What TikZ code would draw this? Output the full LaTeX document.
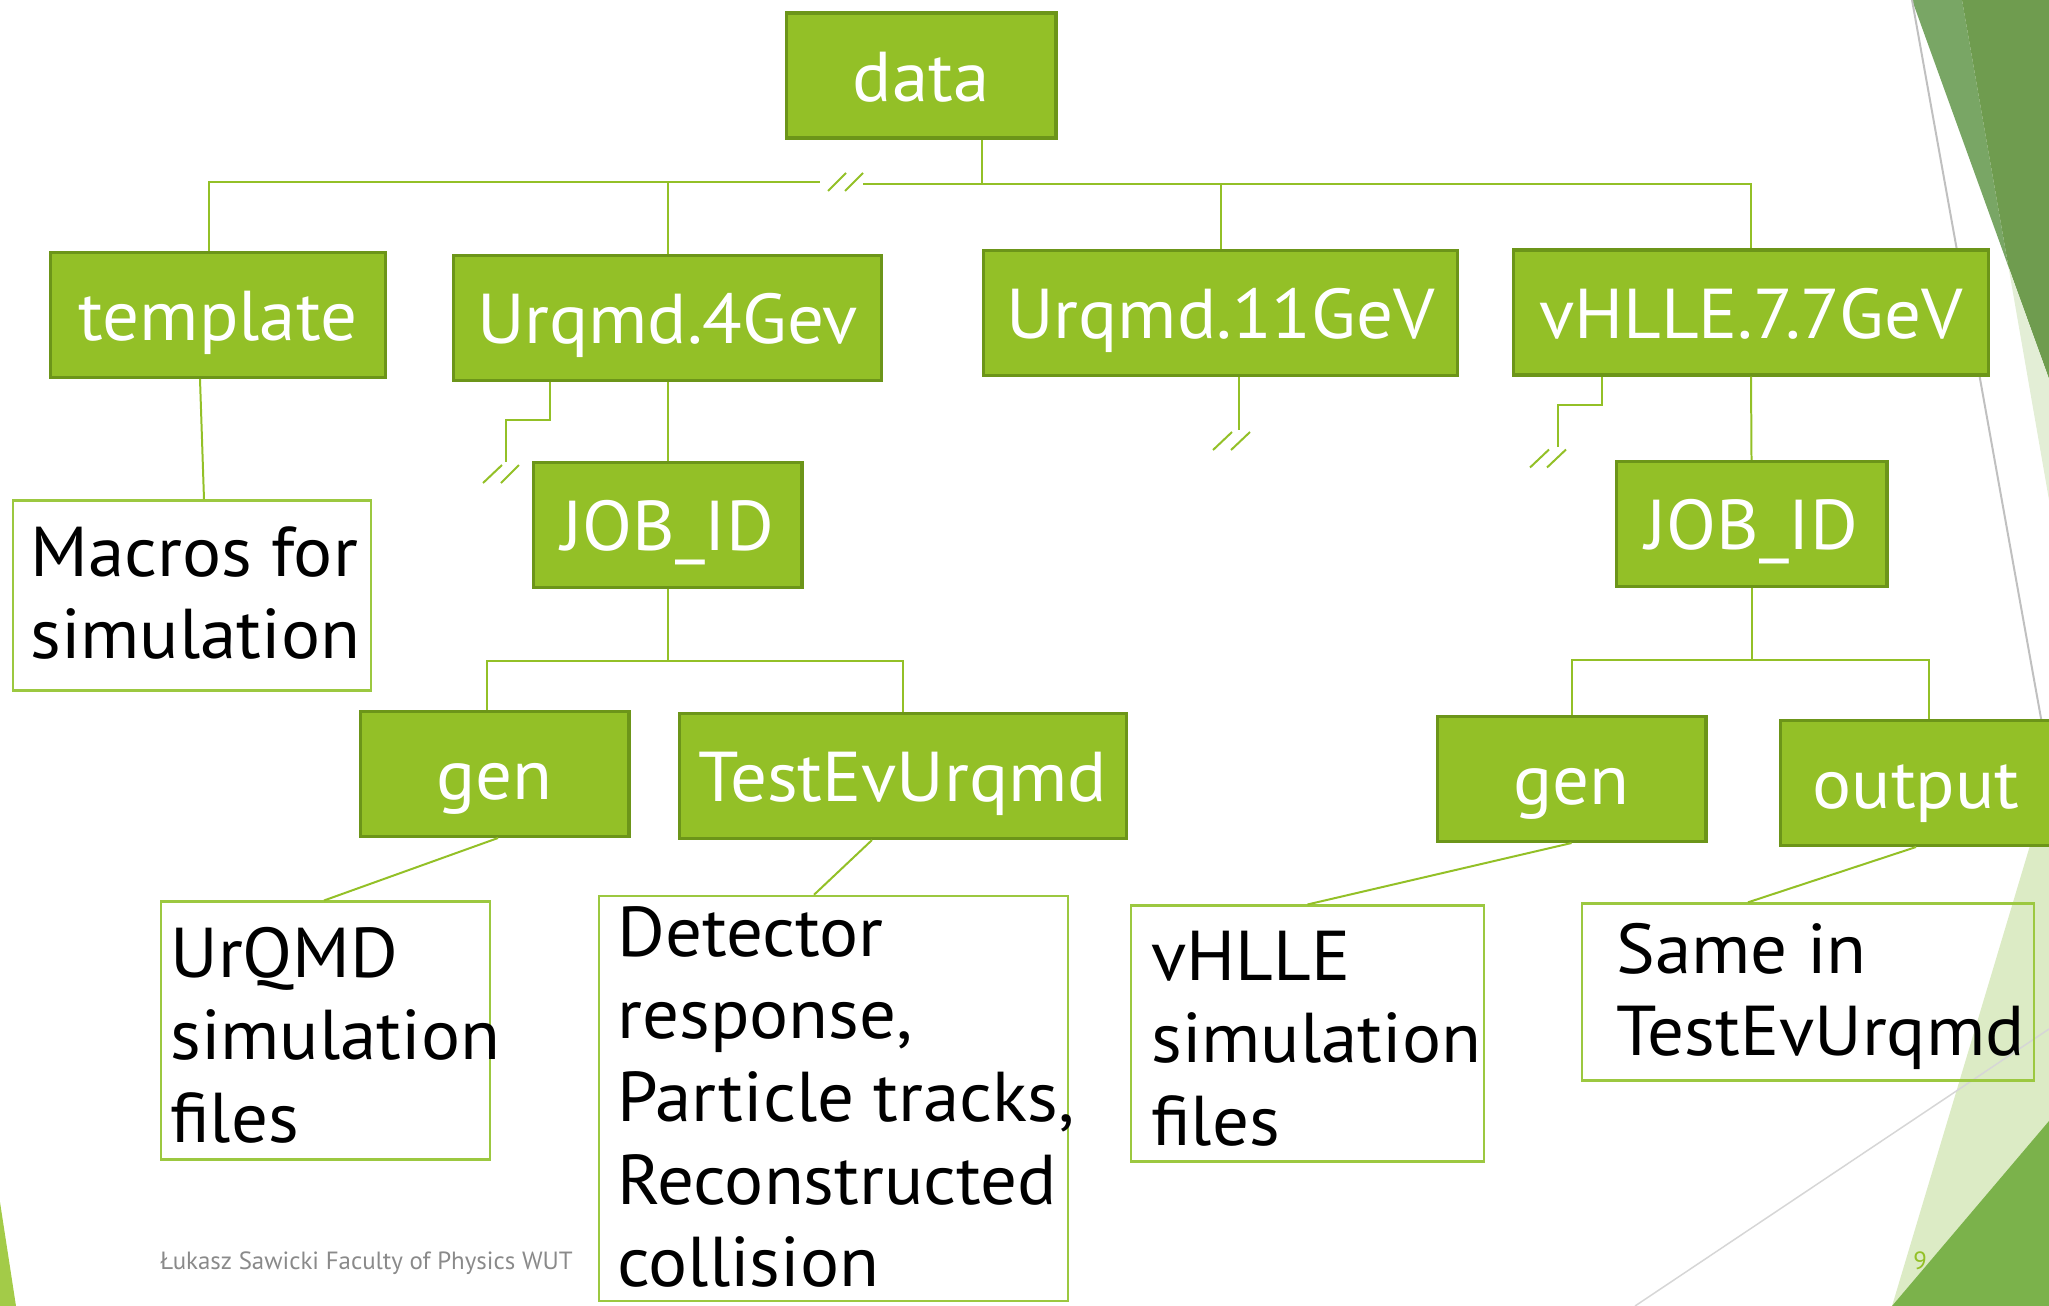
\documentclass[tikz,border=0pt]{standalone}
\usepackage{fontspec}
\setmainfont{PT Sans}
\newfontfamily\bodyfont[FakeStretch=1.035]{PT Sans}
\usetikzlibrary{calc}
\definecolor{leaf}{HTML}{93C027}
\definecolor{leafdark}{HTML}{6C9519}
\definecolor{wirecol}{HTML}{93C027}
\definecolor{framecol}{HTML}{9CC840}
\definecolor{facetA}{HTML}{79A665}
\definecolor{facetB}{HTML}{6F9C4F}
\definecolor{facetC}{HTML}{E3EED6}
\definecolor{facetD}{HTML}{DCEBC5}
\definecolor{facetE}{HTML}{7BB24B}
\definecolor{facetF}{HTML}{A3CB48}
\definecolor{rulegray}{HTML}{C0C0C0}
\definecolor{rulelight}{HTML}{D6D6D6}
\definecolor{footgray}{HTML}{8A8A8A}
\newcommand\linesof[1]{\begin{tabular}[t]{@{}l@{}}#1\end{tabular}}
\begin{document}
\begin{tikzpicture}[x=0.5bp,y=-0.5bp,
  bigfont/.style={font=\bodyfont\fontsize{35.4}{41.5}\selectfont},
  folder/.style={draw=leafdark, fill=leaf, line width=1.75pt, inner sep=0pt,
    text=white, bigfont, text height=26pt, text depth=0pt, minimum height=62.5pt},
  note/.style={draw=framecol, line width=1.25pt, inner sep=0pt},
  notetext/.style={anchor=base west, inner sep=0pt, bigfont},
  wire/.style={draw=wirecol, line width=1pt},
  smalltext/.style={anchor=base west, inner sep=0pt, font=\fontsize{12.5}{15}\selectfont},
]
\useasboundingbox (0,0) rectangle (2049,1306);
\clip (0,0) rectangle (2049,1306);

% facet decoration, top right
\fill[facetA] (1912,0) -- (1962,0) -- (2008.4,266.7) -- cycle;
\fill[facetB] (1962,0) -- (2049,0) -- (2049,379) -- (2008.4,266.7) -- cycle;
\fill[facetC] (2008.4,266.7) -- (2049,379) -- (2049,500) -- cycle;
\draw[rulegray, line width=1pt] (1912,0) -- (2049,763);
% facet decoration, bottom corners
\fill[facetD] (1892,1306) -- (2049,782) -- (2049,1306) -- cycle;
\fill[facetE] (1892,1306) -- (2049,1121) -- (2049,1306) -- cycle;
\draw[rulelight, line width=0.75pt] (1635,1306) -- (2049,1029);
\fill[facetF] (0,1202) -- (16,1306) -- (0,1306) -- cycle;

% folders
\node[folder, minimum width=135.25pt, minimum height=62.75pt] (data) at (921,75.5) {data};
\node[folder, minimum width=168.25pt] (template) at (218,315) {template};
\node[folder, minimum width=214.75pt] (u4) at (667.5,318) {Urqmd.4Gev};
\node[folder, minimum width=237.75pt] (u11) at (1220.5,313) {Urqmd.11GeV};
\node[folder, minimum width=238.25pt] (vh) at (1751,312.5) {vHLLE.7.7GeV};
\node[folder, minimum width=134.75pt] (jobL) at (667.5,525) {JOB\_ID};
\node[folder, minimum width=135.75pt] (jobR) at (1751.5,524) {JOB\_ID};
\node[folder, minimum width=134.75pt] (genL) at (494.5,774) {gen};
\node[folder, minimum width=224.25pt] (tev) at (903,776) {TestEvUrqmd};
\node[folder, minimum width=134.75pt] (genR) at (1571.5,779) {gen};
\node[folder, minimum width=136.25pt] (out) at (1916,783) {output};

% descriptions
\node[note, minimum width=179.75pt, minimum height=95.25pt] (mac) at (192,595.5) {};
\node[note, minimum width=165.25pt, minimum height=129.25pt] (urq) at (325.5,1030.5) {};
\node[note, minimum width=235.25pt, minimum height=203.25pt] (det) at (833.5,1098.5) {};
\node[note, minimum width=177.25pt, minimum height=128.25pt] (vhl) at (1307.5,1033.5) {};
\node[note, minimum width=226.75pt, minimum height=88.75pt] (same) at (1808,992) {};
\node[notetext] (mactext) at (30,576) {\linesof{Macros for\\simulation}};
\node[notetext] (urqtext) at (170,977) {\linesof{UrQMD\\simulation\\files}};
\node[notetext] (dettext) at (617,956) {\linesof{Detector\\response,\\Particle tracks,\\Reconstructed\\collision}};
\node[notetext] (vhltext) at (1151,980) {\linesof{vHLLE\\simulation\\files}};
\node[notetext] (sametext) at (1616,973) {\linesof{Same in\\TestEvUrqmd}};

% top level bus with a break
\coordinate (dj) at (982,183);
\coordinate (bl) at (209,182);
\coordinate (bg1) at (820,182);
\coordinate (bg2) at (863,184);
\draw[wire] (data.south -| dj) -- (dj);
\draw[wire] (template.north -| bl) -- (bl) -- (bg1);
\draw[wire] (u4.north) -- (u4.north |- bl);
\draw[wire] (bg2) -- (vh.north |- bg2) -- (vh.north);
\draw[wire] (u11.north) -- (u11.north |- bg2);
\draw[wire] ($(bg1)+(8,9)$) -- ++(18,-18) ($(bg1)+(25,9)$) -- ++(18,-18);

% second level
\draw[wire] ($(template.south)+(-18,0)$) -- ($(mac.north)+(12,0)$);
\draw[wire] (u4.south) -- (jobL.north);
\draw[wire] (vh.south) -- (jobR.north);
\draw[wire] ($(u4.south)+(-117.5,0)$) -- ++(0,38) -- ++(-44,0) -- ++(0,42) coordinate (u4cut);
\draw[wire] ($(u4cut)+(-23,21)$) -- ++(19,-18) ($(u4cut)+(-5,21)$) -- ++(18,-18);
\draw[wire] ($(u11.south)+(18.5,0)$) -- ++(0,53) coordinate (u11cut);
\draw[wire] ($(u11cut)+(-26,20)$) -- ++(19,-18) ($(u11cut)+(-8,20)$) -- ++(19,-18);
\draw[wire] ($(vh.south)+(-149,0)$) -- ++(0,28) -- ++(-44,0) -- ++(0,42) coordinate (vhcut);
\draw[wire] ($(vhcut)+(-28,21)$) -- ++(19,-18) ($(vhcut)+(-11,21)$) -- ++(19,-18);

% job level
\draw[wire] (jobL.south) -- ++(0,72) coordinate (jlb);
\draw[wire] ($(genL.north)+(-7.5,0)$) |- (jlb) -| (tev.north);
\draw[wire] (jobR.south) -- ++(0,72) coordinate (jrb);
\draw[wire] (genR.north) |- (jrb) -| ($(out.north)+(13,0)$);

% leaves
\draw[wire] ($(genL.south)+(3.5,0)$) -- ($(urq.north)+(-1.5,0)$);
\draw[wire] ($(tev.south)+(-31,0)$) -- ($(det.north)+(-19.5,0)$);
\draw[wire] (genR.south) -- (vhl.north);
\draw[wire] (out.south) -- ($(same.north)+(-60,0)$);

% footer
\node[smalltext, text=footgray] (footer) at (160,1269) {Łukasz Sawicki Faculty of Physics WUT};
\node[smalltext, text=leaf] (pagenum) at (1913,1269) {9};
\end{tikzpicture}
\end{document}
